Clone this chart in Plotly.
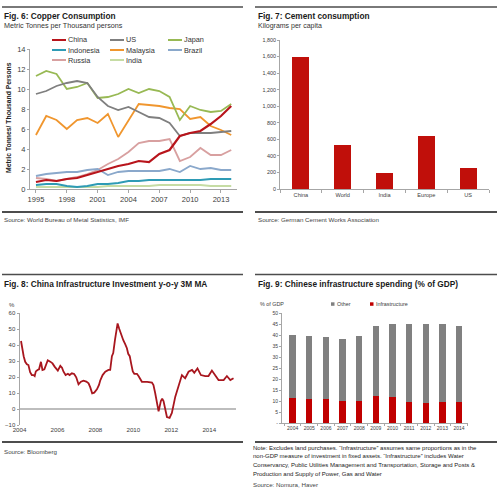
import plotly.graph_objects as go

W, H = 499, 490
def px(x): return x / W
def py(y): return 1 - y / H

FONT = "Liberation Sans, Arial, sans-serif"

# ---------------- Fig 6: copper consumption ----------------
cu_years = list(range(1995, 2015))
cu_names = ["China", "US", "Japan", "Indonesia", "Malaysia", "Brazil", "Russia", "India"]
cu_colors = ["#B8141B", "#7F7F7F", "#98B954", "#2E9BB5", "#F0962E", "#8AA8CB", "#D8A0A0", "#C6DCA4"]
china = [0.7, 0.9, 0.8, 1.0, 1.1, 1.4, 1.7, 2.0, 2.3, 2.5, 2.8, 2.7, 3.5, 3.9, 5.3, 5.6, 5.8, 6.5, 7.3, 8.3]
us = [9.5, 9.8, 10.3, 10.6, 10.8, 10.6, 9.2, 8.3, 7.9, 8.2, 7.7, 7.2, 7.1, 6.6, 5.3, 5.6, 5.6, 5.6, 5.7, 5.8]
japan = [11.3, 11.8, 11.5, 10.0, 10.2, 10.6, 9.1, 9.2, 9.5, 10.0, 9.6, 10.0, 9.8, 9.2, 6.9, 8.3, 7.9, 7.7, 7.8, 8.5]
indonesia = [0.4, 0.5, 0.5, 0.3, 0.2, 0.3, 0.5, 0.5, 0.6, 0.8, 0.8, 0.9, 0.9, 0.9, 0.9, 0.9, 0.9, 1.0, 1.0, 1.0]
malaysia = [5.4, 7.3, 6.9, 6.0, 6.9, 7.1, 6.6, 7.5, 5.2, 6.9, 8.5, 8.4, 8.3, 8.1, 8.0, 7.0, 7.2, 6.3, 5.9, 5.4]
brazil = [1.3, 1.5, 1.6, 1.7, 1.7, 1.9, 2.0, 1.4, 1.7, 1.8, 1.8, 1.8, 1.8, 2.0, 1.7, 2.3, 2.0, 2.1, 1.9, 1.9]
russia = [1.1, 1.0, 0.8, 1.0, 1.2, 1.5, 1.9, 2.5, 3.0, 3.7, 4.6, 4.8, 4.8, 5.0, 2.8, 3.2, 4.1, 3.4, 3.4, 3.9]
india = [0.2, 0.2, 0.2, 0.2, 0.2, 0.2, 0.2, 0.3, 0.3, 0.3, 0.3, 0.3, 0.4, 0.4, 0.4, 0.4, 0.4, 0.3, 0.3, 0.3]
cu_series = [china, us, japan, indonesia, malaysia, brazil, russia, india]
cu_ticks = [1995, 1998, 2001, 2004, 2007, 2010, 2013]

# ---------------- Fig 7: cement ----------------
cem_cats = ["China", "World", "India", "Europe", "US"]
cem_vals = [1600, 535, 195, 640, 250]

# ---------------- Fig 8: infrastructure investment y-o-y 3M MA ----------------
inv_dates = [2004.08, 2004.14, 2004.22, 2004.3, 2004.39, 2004.47, 2004.56, 2004.65, 2004.74, 2004.8,
             2004.86, 2004.95, 2005.03, 2005.13, 2005.21, 2005.31, 2005.38, 2005.49, 2005.62, 2005.74,
             2005.85, 2005.94, 2006.02, 2006.15, 2006.24, 2006.32, 2006.43, 2006.55, 2006.64, 2006.76,
             2006.88, 2006.99, 2007.11, 2007.24, 2007.37, 2007.52, 2007.64, 2007.73, 2007.83, 2007.94,
             2008.08, 2008.19, 2008.25, 2008.38, 2008.52, 2008.69, 2008.78, 2008.87, 2008.94, 2009.03,
             2009.1, 2009.17, 2009.26, 2009.36, 2009.47, 2009.57, 2009.66, 2009.73, 2009.81, 2009.89,
             2009.97, 2010.05, 2010.19, 2010.28, 2010.36, 2010.45, 2010.54, 2010.73, 2010.98, 2011.06,
             2011.15, 2011.24, 2011.33, 2011.45, 2011.52, 2011.59, 2011.68, 2011.77, 2011.91, 2012.03,
             2012.21, 2012.38, 2012.56, 2012.73, 2012.91, 2013.09, 2013.21, 2013.38, 2013.56, 2013.79,
             2013.96, 2014.14, 2014.32, 2014.49, 2014.76, 2014.93, 2015.11, 2015.28]
inv_vals = [42.5, 38, 33, 29.5, 28, 27.5, 23, 21.2, 21.2, 20.6,
            23.5, 24.4, 24.8, 29.5, 24.4, 24.8, 27, 30.5, 29.6, 28.5,
            26.5, 25.4, 24, 27, 25.8, 23.3, 21.2, 22, 21.2, 22.3,
            21.9, 19.8, 15.4, 17.1, 17.7, 17.1, 16, 13.5, 9.8, 10.2,
            12.3, 15, 17.7, 21.2, 23.3, 24.4, 24.5, 33, 35, 43,
            49, 53.5, 50, 46, 43, 40.5, 38, 34.5, 33, 28,
            23.5, 22, 22, 20.5, 19, 17, 17, 17, 16.5, 15,
            10, 5, -1.5, 5, 6.5, 5, -1, -5, -5.5, -2.5,
            7.7, 14, 21.2, 19.2, 23.3, 24.4, 22.7, 25.4, 21.2, 20.6,
            20.6, 24, 21.2, 18.1, 18.1, 20.6, 18.1, 19.2]
inv_ticks = [2004, 2006, 2008, 2010, 2012, 2014]

# ---------------- Fig 9: infrastructure spending % of GDP ----------------
gdp_years = ["2004", "2005", "2006", "2007", "2008", "2009", "2010", "2011", "2012", "2013", "2014"]
gdp_infra = [11.4, 11.1, 10.8, 10.1, 10.1, 12.4, 11.8, 9.5, 9.1, 9.5, 9.5]
gdp_other = [28.6, 28.6, 28.3, 28.2, 29.5, 31.8, 33.0, 35.3, 35.7, 35.3, 34.7]
gdp_ticks = [0, 5, 10, 15, 20, 25, 30, 35, 40, 45, 50]
gdp_ticktext = ["-", "5", "10", "15", "20", "25", "30", "35", "40", "45", "50"]

fig = go.Figure()

for name, col, vals in list(zip(cu_names, cu_colors, cu_series))[::-1]:
    fig.add_trace(go.Scatter(x=cu_years, y=vals, name=name, mode="lines",
                             line=dict(color=col, width=2.2 if name == "China" else 1.8),
                             xaxis="x", yaxis="y", showlegend=False))

fig.add_trace(go.Bar(x=cem_cats, y=cem_vals, marker_color="#C00F0A", width=0.41,
                     xaxis="x2", yaxis="y2", showlegend=False))

fig.add_trace(go.Scatter(x=inv_dates, y=inv_vals, mode="lines",
                         line=dict(color="#A8161E", width=1.8),
                         xaxis="x3", yaxis="y3", showlegend=False))

fig.add_trace(go.Bar(x=gdp_years, y=gdp_infra, name="Infrastructure", marker_color="#C00000",
                     width=0.38, xaxis="x4", yaxis="y4", showlegend=False))
fig.add_trace(go.Bar(x=gdp_years, y=gdp_other, name="Other", marker_color="#808080",
                     width=0.38, xaxis="x4", yaxis="y4", showlegend=False))

axcol = "#A6A6A6"
tickc = "#404040"

common = dict(automargin=False, showgrid=False, fixedrange=True)

layout = dict(
    template="none",
    width=W, height=H, autosize=False,
    margin=dict(l=0, r=0, t=0, b=0, pad=0),
    paper_bgcolor="white", plot_bgcolor="white",
    font=dict(family=FONT, color="#222"),
    barmode="stack",
    xaxis=dict(domain=[px(30), px(237)], range=[1994.42, 2014.56], tickvals=cu_ticks,
               tickfont=dict(size=7.5, color=tickc), showline=True, linecolor=axcol, linewidth=1,
               ticks="outside", ticklen=3, tickcolor=axcol, zeroline=False,
               anchor="y", **common),
    yaxis=dict(domain=[py(189), py(49)], range=[0, 14], dtick=2,
               tickfont=dict(size=7.5, color=tickc), showline=True, linecolor=axcol, linewidth=1,
               zeroline=False, anchor="x", ticks="outside", ticklen=2, tickcolor=axcol, **common),
    xaxis2=dict(domain=[px(280), px(489)], type="category", range=[-0.5, 4.5],
                tickfont=dict(size=5.6, color=tickc), showline=True, linecolor=axcol, linewidth=1,
                ticks="outside", tickson="boundaries", ticklen=3, tickcolor=axcol,
                anchor="y2", tickangle=0, **common),
    yaxis2=dict(domain=[py(189), py(40)], range=[0, 1800], dtick=200, tickformat=",",
                tickfont=dict(size=5.4, color=tickc), showline=True, linecolor=axcol, linewidth=1,
                ticks="outside", ticklen=2, tickcolor=axcol, zeroline=False,
                anchor="x2", **common),
    xaxis3=dict(domain=[px(19.5), px(236)], range=[2004, 2015.41], tickvals=inv_ticks,
                tickfont=dict(size=6.2, color=tickc), showline=False,
                zeroline=False, anchor="y3", tickangle=0, ticks="", **common),
    yaxis3=dict(domain=[py(425), py(313)], range=[-10, 60], dtick=10,
                tickfont=dict(size=6, color=tickc), showline=True, linecolor=axcol, linewidth=1,
                ticks="outside", ticklen=2, tickcolor=axcol,
                zeroline=True, zerolinecolor="#BDBDBD", zerolinewidth=1.2, anchor="x3", **common),
    xaxis4=dict(domain=[px(282), px(468)], type="category", range=[-0.64, 10.54],
                tickfont=dict(size=5, color=tickc), showline=True, linecolor=axcol, linewidth=1,
                ticks="outside", tickson="boundaries", ticklen=2, tickcolor=axcol,
                anchor="y4", tickangle=0, **common),
    yaxis4=dict(domain=[py(423.3), py(313)], range=[0, 50], tickvals=gdp_ticks, ticktext=gdp_ticktext,
                tickfont=dict(size=5, color=tickc), showline=True, linecolor=axcol, linewidth=1,
                ticks="outside", ticklen=2, tickcolor=axcol, zeroline=False,
                anchor="x4", **common),
)
fig.update_layout(**layout)

shapes = []
annots = []

def rule(x0, x1, y, w=1.5, c="#4D4D4D"):
    shapes.append(dict(type="line", xref="paper", yref="paper", x0=px(x0), x1=px(x1),
                       y0=py(y), y1=py(y), line=dict(color=c, width=w)))

def text(x, y, s, size, color="#222", bold=False, xanchor="left", angle=0):
    if bold:
        s = "<b>" + s + "</b>"
    annots.append(dict(x=px(x), y=py(y), xref="paper", yref="paper", text=s, showarrow=False,
                       xanchor=xanchor, yanchor="middle", textangle=angle, borderpad=0,
                       font=dict(size=size, color=color, family=FONT)))

# rules
rule(2, 243, 7)
rule(2, 243, 212, 2)
rule(255, 497, 7)
rule(255, 497, 212, 2)
rule(2, 243, 274.5)
rule(2, 243, 442, 2)
rule(255, 497, 274.5)
rule(255, 497, 442, 2)

# Fig 6 texts
text(2.5, 16, "Fig. 6: Copper Consumption", 8.3, "#1A1A1A", bold=True)
text(2.5, 26, "Metric Tonnes per Thousand persons", 7.2, "#333")
text(8, 118, "Metric Tonnes/ Thousand Persons", 6.8, "#222", bold=True, xanchor="center", angle=-90)
text(2.5, 219.5, "Source: World Bureau of Metal Statistics, IMF", 6.2, "#444")
# legend for fig 6 (3 columns)
col_x = [52, 110, 168]
row_y = [40, 50, 60]
for i, (name, col) in enumerate(zip(cu_names, cu_colors)):
    cx = col_x[i % 3]
    ry = row_y[i // 3]
    shapes.append(dict(type="line", xref="paper", yref="paper", x0=px(cx), x1=px(cx + 14),
                       y0=py(ry), y1=py(ry), line=dict(color=col, width=2)))
    text(cx + 14.5, ry, name, 7.3, "#333")

# Fig 7 texts
text(256.5, 16, "Fig. 7: Cement consumption", 8.3, "#1A1A1A", bold=True)
text(256.5, 26, "Kilograms per capita", 7.0, "#333")
text(256.5, 219.5, "Source: German Cement Works Association", 6.2, "#444")

# Fig 8 texts
text(2.5, 283.5, "Fig. 8: China Infrastructure Investment y-o-y 3M MA", 8.3, "#1A1A1A", bold=True)
text(11.5, 305, "%", 6, tickc, xanchor="center")
text(2.5, 451, "Source: Bloomberg", 6.2, "#444")

# Fig 9 texts
text(256.5, 283.5, "Fig. 9: Chinese infrastructure spending (% of GDP)", 8.3, "#1A1A1A", bold=True)
text(259, 304, "% of GDP", 5.4, tickc)
for lx, name, colr in [(331, "Other", "#808080"), (370, "Infrastructure", "#C00000")]:
    shapes.append(dict(type="rect", xref="paper", yref="paper", x0=px(lx), x1=px(lx + 3.5),
                       y0=py(305.8), y1=py(302.3), line=dict(width=0), fillcolor=colr))
    text(lx + 4.5, 304, name, 5.4, tickc)
note_lines = [
    "Note: Excludes land purchases. \u201cInfrastructure\u201d assumes same proportions as in the",
    "non-GDP measure of investment in fixed assets. \u201cInfrastructure\u201d includes Water",
    "Conservancy, Public Utilities Management and Transportation, Storage and Posts &",
    "Production and Supply of Power, Gas and Water",
]
for i, ln in enumerate(note_lines):
    text(251.5, 447.5 + i * 8.7, ln, 6.0, "#222")
text(251.5, 484.5, "Source: Nomura, Haver", 6.2, "#444")

fig.update_layout(shapes=shapes, annotations=annots)
fig.write_html("out.html",
               config={"displayModeBar": False, "staticPlot": True},
               post_script="document.body.style.margin='0';document.body.style.padding='0';"
                           "document.body.style.overflow='hidden';")
